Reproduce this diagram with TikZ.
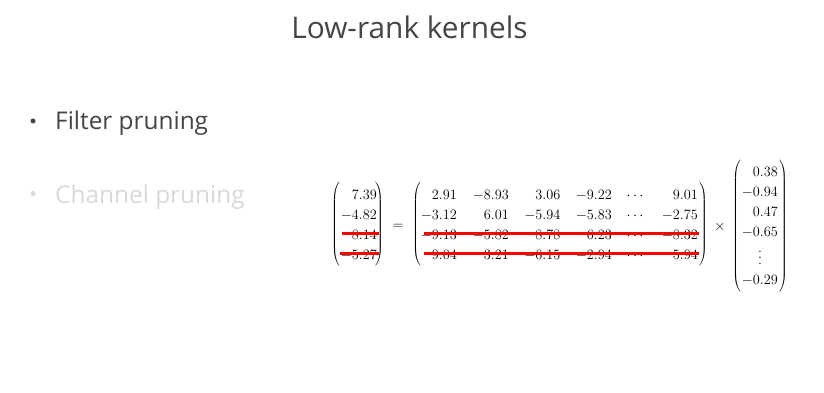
\RequirePackage{fix-cm}
\documentclass[tikz,border=0pt]{standalone}
\usepackage[no-math]{fontspec}
\newfontfamily\slidefont{Open Sans}
\usetikzlibrary{calc}
\delimiterfactor=1000
\delimitershortfall=0pt
\definecolor{darktext}{HTML}{454545}
\definecolor{lighttext}{HTML}{D9D9D9}
\definecolor{strikered}{HTML}{FF0000}
\newcommand{\mfont}{\fontsize{14.3}{17}\selectfont}
\newcommand{\tallbox}[1]{\vcenter{\hbox{\rule[-#1]{0pt}{2\dimexpr #1\relax}}}}
\newcommand{\tallvdots}{\vbox{\baselineskip5.7pt\lineskiplimit0pt\hbox{.}\hbox{.}\hbox{.}}}
\begin{document}
\begin{tikzpicture}[x=1pt,y=-1pt,
  ent/.style={anchor=base east, inner sep=0pt, font=\mfont},
  entc/.style={anchor=base, inner sep=0pt, font=\mfont},
  paren/.style={inner sep=0pt, font=\mfont},
  strike/.style={draw=strikered, line width=3pt},
  slidetitle/.style={anchor=base, inner sep=0pt, text=darktext, font=\slidefont\fontsize{29.8}{35}\selectfont},
  item/.style={anchor=base west, inner sep=0pt, font=\slidefont\fontsize{24.4}{29}\selectfont},
  bul/.style={circle, inner sep=0pt, minimum size=5pt}
]
\useasboundingbox (0,0) rectangle (824,393);
\fill[white] (0,0) rectangle (824,393);

% title and bullets
\node[slidetitle] (title) at (409.5,39) {Low-rank kernels};
\node[bul, fill=darktext] (b1) at (33,121) {};
\node[item, text=darktext] (t1) at (55,130) {Filter pruning};
\node[bul, fill=lighttext] (b2) at (33,193.5) {};
\node[item, text=lighttext] (t2) at (55,203) {Channel pruning};

% left vector
\node[paren, anchor=west] (vl) at (331,224) {$\left(\tallbox{41.5pt}\right.$};
\node[paren, anchor=east] (vr) at (384,224) {$\left.\tallbox{41.5pt}\right)$};
\node[ent] (v1) at (377,199.5) {$7.39$};
\node[ent] (v2) at (377,219.5) {$-4.82$};
\node[ent] (v3) at (377,239.5) {$8.14$};
\node[ent] (v4) at (377,259.5) {$-5.27$};

\node[entc] (eq) at (398,229) {$=$};

% big matrix
\node[paren, anchor=west] (ml) at (412,224) {$\left(\tallbox{41.5pt}\right.$};
\node[paren, anchor=east] (mr) at (708,224) {$\left.\tallbox{41.5pt}\right)$};

\node[ent] (m11) at (457,199.5) {$2.91$};
\node[ent] (m12) at (509,199.5) {$-8.93$};
\node[ent] (m13) at (560.5,199.5) {$3.06$};
\node[ent] (m14) at (612,199.5) {$-9.22$};
\node[entc] (m15) at (635,199.5) {$\cdots$};
\node[ent] (m16) at (698,199.5) {$9.01$};

\node[ent] (m21) at (457,219.5) {$-3.12$};
\node[ent] (m22) at (509,219.5) {$6.01$};
\node[ent] (m23) at (560.5,219.5) {$-5.94$};
\node[ent] (m24) at (612,219.5) {$-5.83$};
\node[entc] (m25) at (635,219.5) {$\cdots$};
\node[ent] (m26) at (698,219.5) {$-2.75$};

\node[ent] (m31) at (457,239.5) {$-9.13$};
\node[ent] (m32) at (509,239.5) {$-5.82$};
\node[ent] (m33) at (560.5,239.5) {$8.78$};
\node[ent] (m34) at (612,239.5) {$6.23$};
\node[entc] (m35) at (635,239.5) {$\cdots$};
\node[ent] (m36) at (698,239.5) {$-8.32$};

\node[ent] (m41) at (457,259.5) {$9.04$};
\node[ent] (m42) at (509,259.5) {$3.21$};
\node[ent] (m43) at (560.5,259.5) {$-6.15$};
\node[ent] (m44) at (612,259.5) {$-2.94$};
\node[entc] (m45) at (635,259.5) {$\cdots$};
\node[ent] (m46) at (698,259.5) {$5.94$};

\node[entc] (times) at (720,230) {$\times$};

% right vector
\node[paren, anchor=west] (rl) at (732,226) {$\left(\tallbox{64pt}\right.$};
\node[paren, anchor=east] (rr) at (788,226) {$\left.\tallbox{64pt}\right)$};
\node[ent] (r1) at (778,176) {$0.38$};
\node[ent] (r2) at (778,196) {$-0.94$};
\node[ent] (r3) at (778,216) {$0.47$};
\node[ent] (r4) at (778,236) {$-0.65$};
\node[entc] (r5) at (760,264) {$\tallvdots$};
\node[ent] (r6) at (778,284) {$-0.29$};

% strike-through lines
\draw[strike] ($(v4.base west |- v3.base)+(1,-6.5)$) coordinate (s1a) -- ($(v3.base east)+(1.5,-6.5)$) coordinate (s1b);
\draw[strike] ($(v4.base west)+(-0.5,-6)$) coordinate (s2a) -- ($(v4.base east)+(1.5,-6)$) coordinate (s2b);
\draw[strike] ($(m31.base west)+(3,-6.5)$) coordinate (s3a) -- ($(m36.base east)+(0.5,-6.5)$) coordinate (s3b);
\draw[strike] ($(m31.base west |- m41.base)+(3,-6)$) coordinate (s4a) -- ($(m46.base east)+(0.5,-6)$) coordinate (s4b);
\end{tikzpicture}
\end{document}
